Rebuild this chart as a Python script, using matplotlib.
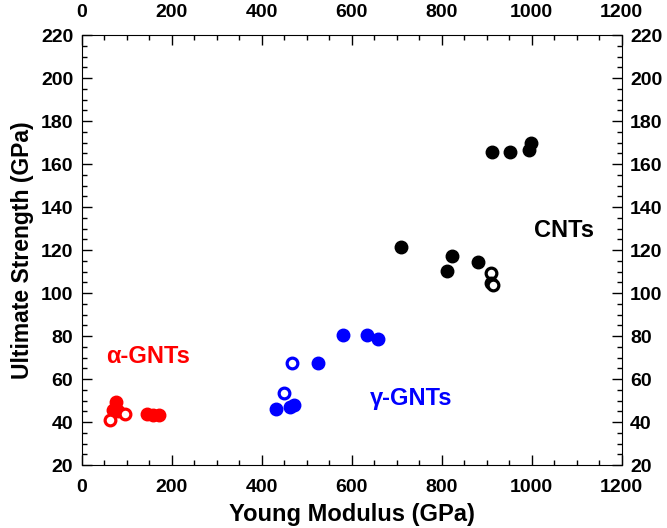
import matplotlib
matplotlib.use("Agg")
import matplotlib.pyplot as plt
from matplotlib.ticker import MultipleLocator

plt.rcParams['font.family'] = ['Liberation Sans', 'DejaVu Sans']
plt.rcParams['font.weight'] = 'bold'

# alpha-GNTs
a_fill_x = [75.6, 70.2, 80, 144.4, 159, 171.8]
a_fill_y = [49.2, 45.6, 45.1, 43.6, 43.3, 43.3]
a_open_x = [62.9, 96.2]
a_open_y = [40.9, 43.6]

# gamma-GNTs
g_fill_x = [581, 633, 658, 525.8, 431, 463, 472.4]
g_fill_y = [80.5, 80.5, 78.5, 67.6, 45.9, 46.8, 47.9]
g_open_x = [466.7, 450]
g_open_y = [67.6, 53.3]

# CNTs
c_fill_x = [912, 952, 994.7, 998.4, 709.5, 822, 812.4, 881.3]
c_fill_y = [165.4, 165.4, 166.5, 169.9, 121.5, 117.2, 110.2, 114.3]
c_open_x = [909.6, 909, 913]
c_open_y = [109.2, 104.5, 103.5]

fig = plt.figure(figsize=(6.67, 5.28), dpi=100)
ax = fig.add_axes([0.1225, 0.1193, 0.8095, 0.8144])

ms = 9
for fx, fy, ox, oy, col in [(a_fill_x, a_fill_y, a_open_x, a_open_y, 'red'),
                            (g_fill_x, g_fill_y, g_open_x, g_open_y, 'blue'),
                            (c_fill_x, c_fill_y, c_open_x, c_open_y, 'black')]:
    ax.plot(fx, fy, 'o', color=col, markersize=ms, linestyle='none')
    ax.plot(ox, oy, 'o', markerfacecolor='white', markeredgecolor=col,
            markersize=7.7, markeredgewidth=2.3, linestyle='none')

ax.text(147.8, 67.4, 'α-GNTs', color='red', fontsize=17, fontweight='bold', ha='center', va='baseline')
ax.text(732, 47.9, 'γ-GNTs', color='blue', fontsize=17, fontweight='bold', ha='center', va='baseline')
ax.text(1072, 126, 'CNTs', color='black', fontsize=17, fontweight='bold', ha='center', va='baseline')

ax.set_xlim(0, 1200)
ax.set_ylim(20, 220)
ax.xaxis.set_major_locator(MultipleLocator(200))
ax.xaxis.set_minor_locator(MultipleLocator(50))
ax.yaxis.set_major_locator(MultipleLocator(20))
ax.yaxis.set_minor_locator(MultipleLocator(5))
ax.tick_params(which='both', direction='in', top=True, right=True,
               labeltop=True, labelright=True, labelsize=14, width=1)
ax.tick_params(which='major', length=7)
ax.tick_params(which='minor', length=3.5)
ax.tick_params(axis='x', which='major', pad=10)
ax.tick_params(axis='y', which='major', pad=6)
for lab in ax.get_xticklabels() + ax.get_yticklabels():
    lab.set_fontweight('bold')

ax.set_xlabel('Young Modulus (GPa)', fontsize=17, fontweight='bold', labelpad=5)
ax.set_ylabel('Ultimate Strength (GPa)', fontsize=16.5, fontweight='bold', labelpad=5)

fig.savefig('out.png', dpi=100)
